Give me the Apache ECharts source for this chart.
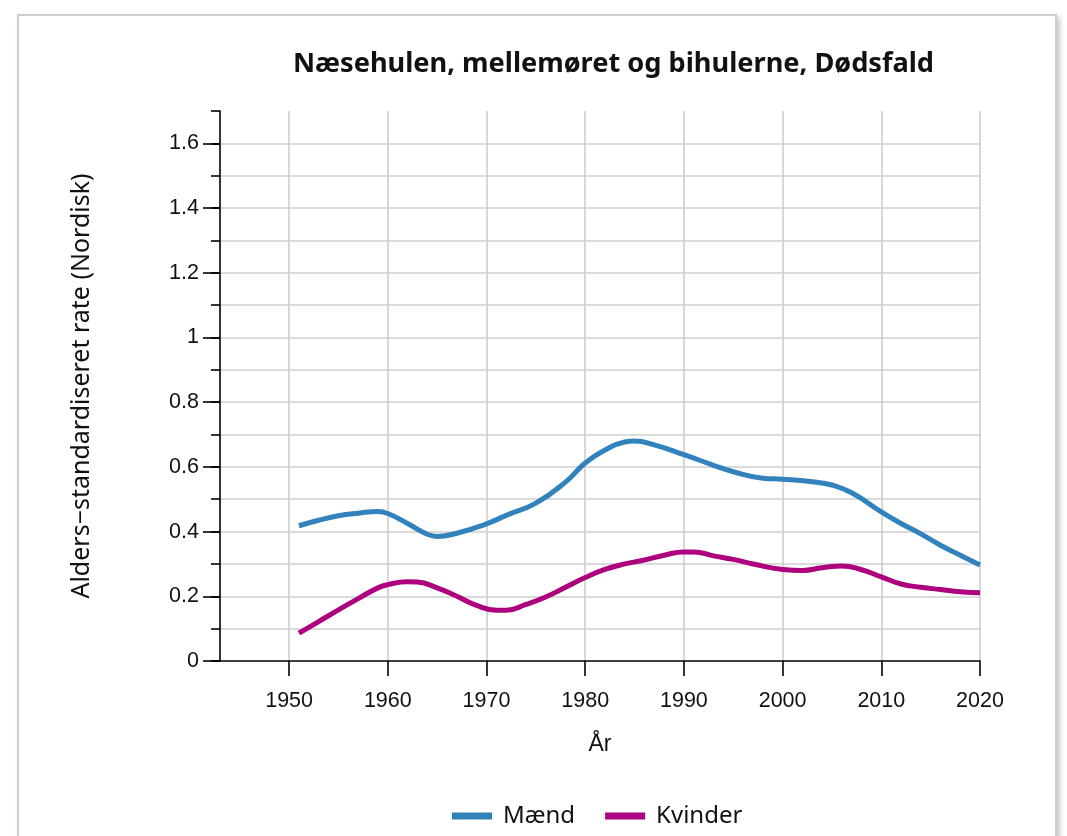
<!DOCTYPE html>
<html><head><meta charset="utf-8">
<script src="https://cdn.jsdelivr.net/npm/echarts@6/dist/echarts.min.js"></script>
<style>
html,body{margin:0;padding:0;background:#fff;width:1067px;height:836px;overflow:hidden;}
#frame{position:absolute;left:17px;top:14px;width:1036px;height:900px;border:2px solid #cdcdcd;box-shadow:3px 3px 5px rgba(0,0,0,0.22);background:#fff;}
#chart{position:absolute;left:0;top:0;width:1067px;height:836px;}
</style></head><body>
<div id="frame"></div><div id="chart"></div>
<script>
const titleText = 'Næsehulen, mellemøret og bihulerne, Dødsfald';
const seriesNames = ['Mænd', 'Kvinder'];
const menYears   = [1951, 1953, 1955, 1957, 1959, 1960, 1962, 1964, 1965, 1967, 1970, 1972, 1975, 1978, 1980, 1982, 1984, 1985, 1987, 1990, 1993, 1995, 1998, 2000, 2003, 2005, 2007, 2010, 2012, 2014, 2016, 2018, 2020];
const menValues  = [0.418, 0.435, 0.449, 0.457, 0.462, 0.456, 0.425, 0.392, 0.385, 0.395, 0.424, 0.450, 0.488, 0.553, 0.612, 0.652, 0.677, 0.680, 0.668, 0.638, 0.605, 0.585, 0.565, 0.562, 0.554, 0.544, 0.520, 0.461, 0.425, 0.393, 0.358, 0.327, 0.297];
const womenYears  = [1951, 1953, 1955, 1957, 1959, 1960, 1962, 1963, 1965, 1967, 1969, 1971, 1972, 1974, 1976, 1978, 1980, 1982, 1984, 1986, 1988, 1990, 1991, 1993, 1995, 1997, 2000, 2002, 2004, 2006, 2008, 2010, 2012, 2014, 2016, 2018, 2020];
const womenValues = [0.086, 0.122, 0.158, 0.193, 0.226, 0.236, 0.245, 0.244, 0.226, 0.200, 0.172, 0.157, 0.157, 0.175, 0.198, 0.228, 0.258, 0.283, 0.300, 0.312, 0.327, 0.337, 0.337, 0.325, 0.314, 0.300, 0.283, 0.280, 0.288, 0.294, 0.282, 0.260, 0.238, 0.228, 0.221, 0.214, 0.211];
const xTickValues = [1950, 1960, 1970, 1980, 1990, 2000, 2010, 2020];
const yTickValues = [0, 0.2, 0.4, 0.6, 0.8, 1, 1.2, 1.4, 1.6];
const xAxisName = 'År';
const yAxisName = 'Alders−standardiseret rate (Nordisk)';

const colors = ['#3182bd', '#ae017e'];
const axisColor = '#000';
const gridColor = '#cfcfcf';
const labelFont = 'Liberation Sans, Arial, sans-serif';

const chart = echarts.init(document.getElementById('chart'), null, {renderer: 'canvas'});
const option = {
  animation: false,
  backgroundColor: 'transparent',
  title: {
    text: titleText, left: 288, top: 46,
    textStyle: {fontFamily: 'Noto Sans', fontWeight: 'bold', fontSize: 27.2, color: '#111'}
  },
  legend: {
    data: seriesNames, left: 447, top: 799, icon: 'rect', itemWidth: 40, itemHeight: 7, itemGap: 30,
    textStyle: {fontFamily: 'Noto Sans', fontSize: 24, color: '#111', padding: [0, 0, 0, 6]}
  },
  grid: {left: 220, right: 87, top: 111, bottom: 175},
  xAxis: {
    type: 'value', min: 1943, max: 2020,
    name: xAxisName, nameLocation: 'middle', nameGap: 72,
    nameTextStyle: {fontFamily: labelFont, fontSize: 23, color: '#111'},
    axisLine: {show: true, lineStyle: {color: axisColor, width: 1.6}},
    axisTick: {show: true, customValues: xTickValues, length: 15, lineStyle: {color: axisColor, width: 1.6}},
    axisLabel: {customValues: xTickValues, margin: 29, fontFamily: labelFont, fontSize: 21.5, color: '#111',
      formatter: v => String(v)},
    splitLine: {show: true, lineStyle: {color: gridColor, width: 1.6}}
  },
  yAxis: [{
    type: 'value', min: 0, max: 1.7, interval: 0.1, position: 'left',
    axisLine: {show: true, lineStyle: {color: axisColor, width: 1.6}},
    axisTick: {show: true, length: 9, lineStyle: {color: axisColor, width: 1.6}},
    axisLabel: {show: false},
    splitLine: {show: true, showMaxLine: false, showMinLine: false, lineStyle: {color: gridColor, width: 1.6}}
  }, {
    type: 'value', min: 0, max: 1.7, position: 'left', offset: 0,
    name: yAxisName, nameLocation: 'middle', nameGap: 126, nameRotate: 90,
    nameTextStyle: {fontFamily: 'Noto Sans', fontSize: 25, color: '#111'},
    axisLine: {show: false},
    axisTick: {show: true, customValues: yTickValues, length: 17, lineStyle: {color: axisColor, width: 1.6}},
    axisLabel: {customValues: yTickValues, margin: 21, fontFamily: labelFont, fontSize: 21.5, color: '#111',
      formatter: v => String(Math.round(v * 10) / 10)},
    splitLine: {show: false}
  }],
  series: [{
    name: seriesNames[0], type: 'line', smooth: 0.5, showSymbol: false, yAxisIndex: 0,
    itemStyle: {color: colors[0]}, lineStyle: {color: colors[0], width: 5},
    data: menYears.map((y, i) => [y, menValues[i]])
  }, {
    name: seriesNames[1], type: 'line', smooth: 0.5, showSymbol: false, yAxisIndex: 0,
    itemStyle: {color: colors[1]}, lineStyle: {color: colors[1], width: 5},
    data: womenYears.map((y, i) => [y, womenValues[i]])
  }]
};
chart.setOption(option);
</script>
</body></html>
